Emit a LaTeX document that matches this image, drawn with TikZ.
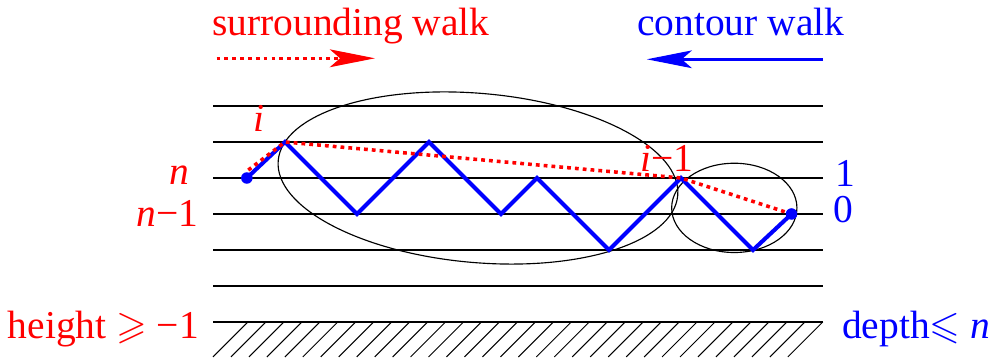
\documentclass[tikz,border=0pt]{standalone}
\usepackage{amssymb}
\usepackage{fontspec}
\setmainfont{Liberation Serif}
\usetikzlibrary{arrows.meta}
\begin{document}
\begin{tikzpicture}[x=0.5cm, y=0.5cm,
  every node/.style={inner sep=0pt, font=\fontsize{15.6}{18}\selectfont},
  lvl/.style={line width=0.5pt},
  hatch/.style={line width=0.4pt},
  loop/.style={line width=0.45pt},
  walk/.style={blue, line width=1.6pt},
  surr/.style={red, line width=1.4pt, dash pattern=on 1.5pt off 1.6pt},
  head/.style={-{Stealth[length=17.8pt, width=7pt, inset=4pt]}}
]
  \useasboundingbox (-6.917,-1.028) rectangle (20.861,8.944);

  % levels and the forbidden zone
  \foreach \y in {0,...,6} \draw[lvl] (-1,\y) -- (15.94,\y);
  \foreach \c in {0,...,32} \draw[hatch] (-1+0.499*\c,-0.97) -- ++(0.97,0.97);

  % walk vertices
  \coordinate (w0) at (-0.06,4);
  \coordinate (w1) at (1,5);
  \coordinate (w2) at (3,3);
  \coordinate (w3) at (5,5);
  \coordinate (w4) at (7,3);
  \coordinate (w5) at (8,4);
  \coordinate (w6) at (10,2);
  \coordinate (w7) at (12,4);
  \coordinate (w8) at (14,2);
  \coordinate (w9) at (15.07,3);
  \coordinate (r0) at (-0.02,4.22);

  \draw[loop, rotate around={-5:(6.36,4)}] (6.36,4) ellipse [x radius=5.57, y radius=2.35];
  \draw[loop] (13.48,3.17) ellipse [x radius=1.74, y radius=1.24];

  \draw[walk] (w0) -- (w1) -- (w2) -- (w3) -- (w4) -- (w5) -- (w6) -- (w7) -- (w8) -- (w9);
  \draw[surr] (r0) -- (w1) -- (w7) -- (w9);
  \fill[blue] (w0) circle [radius=0.16];
  \fill[blue] (w9) circle [radius=0.16];

  % direction arrows
  \coordinate (sa) at (-0.9,7.325);
  \coordinate (sb) at (3.5,7.325);
  \coordinate (ca) at (15.95,7.297);
  \coordinate (cb) at (11.05,7.297);
  \draw[surr, head] (sa) -- (sb);
  \draw[blue, line width=1.05pt, head] (ca) -- (cb);

  \node[red, anchor=base west] (surrlbl) at (-1.036,7.972) {surrounding walk};
  \node[blue, anchor=base west] (contlbl) at (10.77,7.972) {contour walk};
  \node[red, anchor=base east] (lvn) at (-1.64,3.806) {\textit{n}};
  \node[red, anchor=base east] (lvn1) at (-1.40,2.647) {\textit{n}−1};
  \node[red, anchor=base] (stepi) at (0.28,5.286) {\textit{i}};
  \node[red, anchor=base west] (stepi1) at (10.86,4.175) {\textit{i}−1};
  \node[blue, anchor=base west] (dp1) at (16.28,3.758) {1};
  \node[blue, anchor=base west] (dp0) at (16.22,2.758) {0};
  \node[red, anchor=base east] (hgt) at (-1.378,-0.453) {height $\geqslant$ −1};
  \node[blue, anchor=base west] (dpt) at (16.46,-0.453) {depth$\leqslant$ \textit{n}};
\end{tikzpicture}
\end{document}
